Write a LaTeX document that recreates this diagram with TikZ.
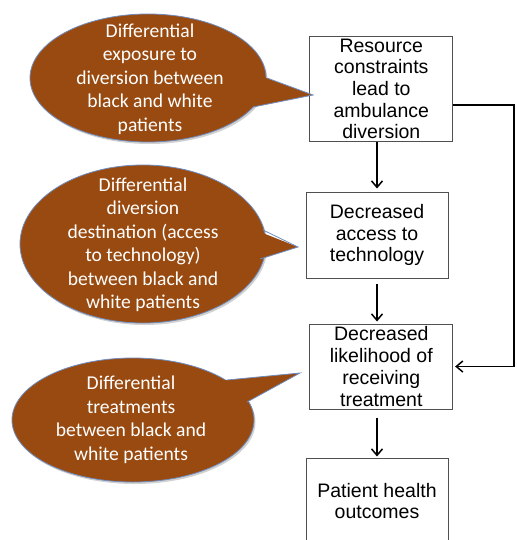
\documentclass[tikz,border=0pt]{standalone}
\usepackage{fontspec}
\setmainfont{Liberation Sans}
\newfontfamily\bubblefont{Carlito}
\usetikzlibrary{shapes.geometric,arrows.meta}
\definecolor{bubbrown}{HTML}{994A10}
\definecolor{bubedge}{HTML}{6F8CBF}
\definecolor{boxedge}{HTML}{505050}
\begin{document}
\begin{tikzpicture}[x=1pt,y=-1pt,
  bubble/.style={ellipse,fill=bubbrown,draw=bubedge,line width=0.8pt,inner sep=0pt,
    text=white,align=center,font=\bubblefont\fontsize{19.6}{23.5}\selectfont},
  bubshadow/.style={ellipse,fill=black,fill opacity=0.18,inner sep=0pt},
  bubtext/.style={text=white,align=center,inner sep=0pt,font=\bubblefont\fontsize{19.6}{23.5}\selectfont},
  tailfill/.style={fill=bubbrown},
  tailedge/.style={draw=bubedge,line width=0.8pt,line join=miter},
  stepbox/.style={rectangle,draw=boxedge,line width=1pt,inner sep=0pt,align=center,
    font=\fontsize{19.5}{21.7}\selectfont},
  arr/.style={draw=black,line width=1.7pt,-{Straight Barb[length=6.5pt,width=11pt,line width=1.5pt]}}
]
\useasboundingbox (0,0) rectangle (516,540);
\fill[white] (0,0) rectangle (516,540);

% boxes
\node[stepbox,minimum width=142.7pt,minimum height=105.7pt] (b1) at (381.3,88.9)
  {Resource\\constraints\\lead to\\ambulance\\diversion};
\node[stepbox,minimum width=142pt,minimum height=86pt] (b2) at (377,235)
  {Decreased\\access to\\technology};
\node[stepbox,minimum width=142.7pt,minimum height=85pt] (b3) at (381.3,366.5)
  {Decreased\\likelihood of\\receiving\\treatment};
\node[stepbox,minimum width=142pt,minimum height=86pt] (b4) at (377,501)
  {Patient health\\outcomes};

% vertical arrows
\draw[arr,shorten >=3pt] (b1.south -| b2.north) -- (b2.north);
\draw[arr,shorten <=5pt,shorten >=2pt] (b2.south) -- (b3.north -| b2.south);
\draw[arr,shorten <=8pt,shorten >=1pt] (b3.south -| b4.north) -- (b4.north);

% side connector
\coordinate (c1) at (514,105);
\coordinate (c2) at (514,366.5);
\draw[arr,shorten >=2pt] (b1.east |- c1) -- (c1) -- (c2) -- (b3.east);

% bubble 1
\node[bubshadow,minimum width=236pt,minimum height=128pt] (s1) at (149.5,80) {};
\node[bubble,minimum width=236pt,minimum height=128pt] (e1) at (148,78) {};
\coordinate (t1) at (313,95);
\fill[tailfill] (250,72) -- (t1) -- (235,110.6) -- cycle;
\draw[tailedge] (267,78) -- (t1) -- (253,107);
\node[bubtext] (l1) at (150,79) {Differential\\exposure to\\diversion between\\black and white\\patients};

% bubble 2
\node[bubshadow,minimum width=246pt,minimum height=158pt] (s2) at (144.5,246) {};
\node[bubble,minimum width=246pt,minimum height=158pt] (e2) at (143,244) {};
\coordinate (t2) at (298,247);
\fill[tailfill] (240,224) -- (t2) -- (235,267) -- cycle;
\draw[tailedge] (263,230) -- (t2) -- (260,259);
\node[bubtext] (l2) at (143,245) {Differential\\diversion\\destination (access\\to technology)\\between black and\\white patients};

% bubble 3
\node[bubshadow,minimum width=242pt,minimum height=124pt] (s3) at (134.5,422) {};
\node[bubble,minimum width=242pt,minimum height=124pt] (e3) at (133,420) {};
\coordinate (t3) at (300,373);
\fill[tailfill] (200,382.6) -- (t3) -- (220,416.8) -- cycle;
\draw[tailedge] (227,380) -- (t3) -- (247,402);
\node[bubtext] (l3) at (131,420) {Differential\\treatments\\between black and\\white patients};
\end{tikzpicture}
\end{document}
